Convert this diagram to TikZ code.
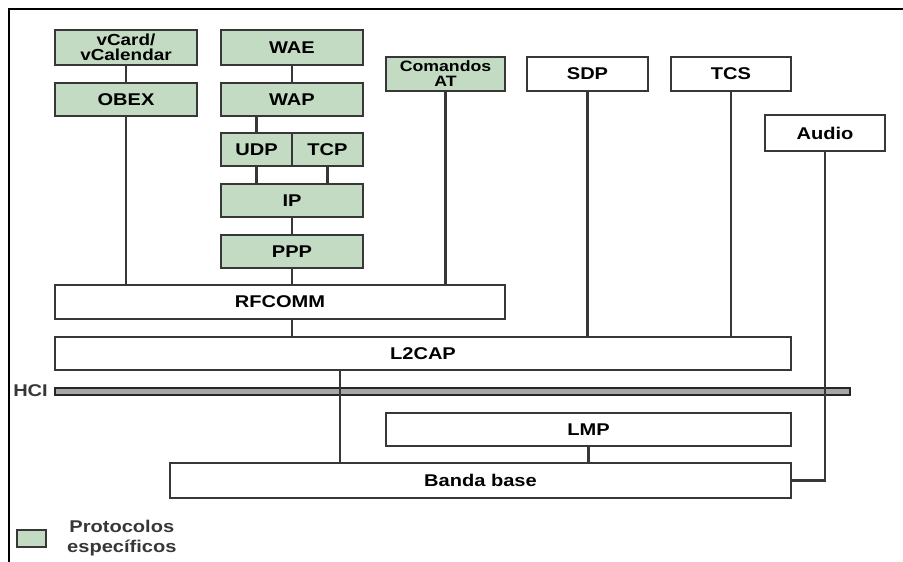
\documentclass[tikz,border=0pt]{standalone}
\usepackage{fontspec}
\newfontfamily\stackfont{Liberation Sans}[FakeStretch=1.18]
\usepackage{xcolor}
\usepackage{tikz}
\usetikzlibrary{positioning,calc}

\definecolor{protgreen}{RGB}{194,219,194}
\definecolor{edgegray}{RGB}{55,55,55}

\begin{document}
\begin{tikzpicture}[
        x=1pt, y=-1pt,
        layer/.style={rectangle, draw=edgegray, line width=2.6pt, fill=white, align=center, inner sep=0pt, outer sep=0pt, font=\stackfont\bfseries\fontsize{17}{16}\selectfont},
        prot/.style={layer, fill=protgreen},
        link/.style={draw=edgegray, line width=2.5pt}
    ]
        \useasboundingbox (0,0) rectangle (903,562);
        \draw[line width=2.2pt] (9,562) -- (9,9) -- (903,9);

        % protocolos especificos
        \node[prot, minimum width=142pt, minimum height=35pt, font=\stackfont\bfseries\fontsize{16}{15.5}\selectfont] (vcard) at (126,47.5) {vCard/\\vCalendar};
        \node[prot, minimum width=142pt, minimum height=33pt] (obex) at (126,99.5) {OBEX};
        \node[prot, minimum width=142pt, minimum height=35pt] (wae) at (292,47.5) {WAE};
        \node[prot, minimum width=142pt, minimum height=33pt] (wap) at (292,99.5) {WAP};
        \node[prot, minimum width=71pt, minimum height=33pt] (udp) at (256.5,149.5) {UDP};
        \node[prot, minimum width=71pt, minimum height=33pt] (tcp) at (327.5,149.5) {TCP};
        \node[prot, minimum width=142pt, minimum height=33pt] (ip) at (292,200.5) {IP};
        \node[prot, minimum width=142pt, minimum height=33pt] (ppp) at (292,251.5) {PPP};
        \node[prot, minimum width=119pt, minimum height=34pt, font=\stackfont\bfseries\fontsize{15}{15}\selectfont] (cmdat) at (445.5,74) {Comandos\\AT};

        % pila base
        \node[layer, minimum width=121pt, minimum height=34pt] (sdp) at (587.5,74) {SDP};
        \node[layer, minimum width=120pt, minimum height=34pt] (tcs) at (731,74) {TCS};
        \node[layer, minimum width=120pt, minimum height=36pt] (audio) at (825,133) {Audio};
        \node[layer, minimum width=450pt, minimum height=34pt] (rfcomm) at (280,302) {RFCOMM};
        \node[layer, minimum width=736pt, minimum height=33pt] (l2cap) at (423,353.5) {L2CAP};
        \node[rectangle, draw=black!85, fill=gray!70, line width=2pt, minimum width=795pt, minimum height=7pt, inner sep=0pt] (hci) at (452.5,391) {};
        \node[left=6pt of hci, inner sep=0pt, font=\stackfont\bfseries\fontsize{17}{16}\selectfont, text=edgegray] (hcilabel) {HCI};
        \node[layer, minimum width=405pt, minimum height=33pt] (lmp) at (588.5,429.5) {LMP};
        \node[layer, minimum width=621pt, minimum height=35pt] (banda) at (480.5,480.5) {Banda base};

        \coordinate (hcix) at (340,391);

        \draw[link] (vcard) -- (obex);
        \draw[link] (obex) -- (obex |- rfcomm.north);
        \draw[link] (wae) -- (wap);
        \draw[link] (wap.south -| udp) -- (udp);
        \draw[link] (udp) -- (udp |- ip.north);
        \draw[link] (tcp) -- (tcp |- ip.north);
        \draw[link] (ip) -- (ppp);
        \draw[link] (ppp) -- (ppp |- rfcomm.north);
        \draw[link] (cmdat) -- (cmdat |- rfcomm.north);
        \draw[link] (rfcomm.south -| ppp) -- (l2cap.north -| ppp);
        \draw[link] (sdp) -- (sdp |- l2cap.north);
        \draw[link] (tcs) -- (tcs |- l2cap.north);
        \draw[link] (l2cap.south -| hcix) -- (banda.north -| hcix);
        \draw[link] (lmp) -- (lmp |- banda.north);
        \draw[link] (audio) |- (banda.east);

        % leyenda
        \node[prot, line width=1.8pt, minimum width=29pt, minimum height=17pt] (legbox) at (31.5,538.5) {};
        \node[right=21pt of legbox, align=center, inner sep=0pt, text=edgegray, font=\stackfont\bfseries\fontsize{17}{20}\selectfont] (legtext) {Protocolos\\específicos};
    \end{tikzpicture}
\end{document}
